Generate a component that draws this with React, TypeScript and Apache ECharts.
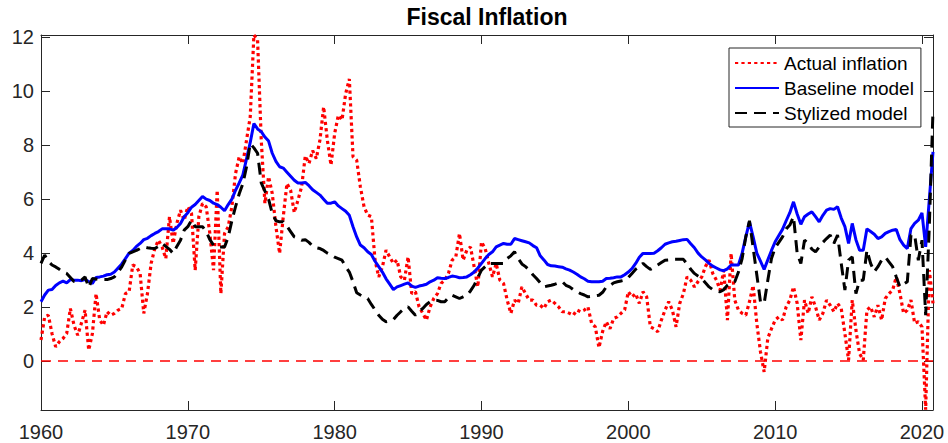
import React, { useEffect, useRef } from 'react';
import * as echarts from 'echarts';

// Quarterly observations, 1960Q1 .. 2020Q4
const startYear = 1960;
const xTickYears = [1960, 1970, 1980, 1990, 2000, 2010, 2020];
const yTickValues = [0, 2, 4, 6, 8, 10, 12];

const actualInflation = [
  0.78, 1.64, 1.70, 1.02, 0.53, 0.72, 0.84, 1.02, 1.95, 1.33, 0.96, 1.40, 1.89, 0.41, 1.02, 2.50,
  1.52, 1.33, 1.83, 1.70, 1.77, 1.89, 1.95, 2.50, 2.57, 3.56, 3.49, 3.25, 1.77, 2.50, 3.62, 4.17,
  4.48, 4.23, 3.80, 5.35, 4.36, 5.10, 5.59, 5.22, 5.72, 5.47, 3.37, 5.35, 5.84, 5.72, 4.73, 3.37,
  6.33, 2.50, 4.73, 4.98, 5.72, 6.95, 7.57, 7.32, 8.19, 9.05, 12.08, 11.90, 8.19, 5.84, 6.83, 6.21,
  4.98, 3.99, 5.35, 6.58, 6.33, 5.50, 5.96, 6.46, 7.60, 7.32, 7.80, 7.50, 8.20, 9.42, 8.19, 7.26,
  8.43, 9.11, 8.93, 9.91, 10.45, 7.57, 7.44, 6.46, 5.72, 5.41, 5.35, 3.74, 3.12, 3.49, 4.11, 3.86,
  3.62, 3.74, 3.12, 3.00, 3.86, 2.50, 2.57, 2.01, 1.77, 1.52, 2.01, 2.32, 2.50, 2.88, 3.00, 3.25,
  3.74, 3.86, 4.73, 3.74, 4.11, 4.23, 3.49, 2.75, 4.42, 4.17, 3.62, 3.12, 3.62, 3.00, 2.88, 2.26,
  1.77, 2.26, 2.14, 2.75, 2.50, 2.26, 2.26, 2.07, 2.07, 1.95, 2.20, 2.26, 2.14, 2.01, 1.83, 1.83,
  1.77, 1.70, 1.89, 1.83, 1.89, 2.01, 1.40, 1.27, 0.50, 1.10, 1.46, 1.20, 1.58, 1.64, 1.77, 1.90,
  2.57, 2.38, 2.50, 2.14, 2.57, 2.38, 1.27, 1.20, 1.09, 1.52, 1.89, 2.20, 1.89, 1.27, 2.14, 2.50,
  3.12, 3.00, 2.75, 2.95, 3.12, 3.50, 3.74, 3.25, 3.00, 2.63, 3.37, 1.52, 3.99, 2.26, 1.89, 1.77,
  1.70, 2.20, 2.80, 1.40, 0.35, -0.40, 0.85, 1.20, 1.52, 1.64, 1.52, 2.01, 2.26, 2.75, 2.14, 0.78,
  2.26, 1.77, 2.38, 2.01, 1.52, 1.77, 2.26, 2.07, 1.83, 2.14, 1.95, 1.02, 0.04, 2.26, 1.15, 0.28,
  0.04, 1.89, 2.01, 1.64, 2.07, 1.52, 2.32, 2.50, 2.63, 3.12, 2.50, 1.77, 1.89, 2.26, 1.40, 1.46,
  1.27, -1.80, 3.37, 2.14,
];

const baselineModel = [
  2.20, 2.45, 2.63, 2.65, 2.80, 2.90, 2.96, 2.90, 3.02, 3.00, 3.00, 2.98, 3.02, 2.95, 2.88, 3.10,
  3.12, 3.15, 3.20, 3.22, 3.30, 3.45, 3.60, 3.80, 4.00, 4.10, 4.25, 4.36, 4.50, 4.55, 4.65, 4.73,
  4.80, 4.90, 4.90, 4.90, 4.85, 4.95, 5.10, 5.35, 5.50, 5.70, 5.80, 5.95, 6.10, 6.00, 5.95, 5.85,
  5.80, 5.70, 5.57, 5.80, 6.00, 6.33, 6.60, 6.90, 7.50, 8.10, 8.80, 8.60, 8.50, 8.30, 8.15, 7.70,
  7.40, 7.20, 7.15, 7.00, 6.85, 6.70, 6.60, 6.60, 6.62, 6.50, 6.35, 6.25, 6.15, 6.00, 5.85, 5.85,
  5.90, 5.75, 5.65, 5.55, 5.40, 4.98, 4.60, 4.30, 4.20, 4.05, 3.95, 3.70, 3.50, 3.30, 3.05, 2.85,
  2.65, 2.75, 2.80, 2.85, 2.90, 2.78, 2.73, 2.78, 2.81, 2.85, 2.94, 3.00, 3.09, 3.07, 3.06, 3.10,
  3.15, 3.13, 3.09, 3.10, 3.12, 3.20, 3.30, 3.45, 3.62, 3.80, 3.95, 4.05, 4.23, 4.30, 4.36, 4.33,
  4.33, 4.54, 4.50, 4.46, 4.42, 4.38, 4.28, 4.20, 3.90, 3.75, 3.58, 3.53, 3.52, 3.50, 3.48, 3.42,
  3.37, 3.30, 3.22, 3.12, 3.05, 2.96, 2.94, 2.94, 2.94, 2.96, 3.06, 3.07, 3.09, 3.12, 3.12, 3.20,
  3.30, 3.43, 3.62, 3.85, 3.99, 3.99, 3.99, 4.00, 4.09, 4.20, 4.33, 4.38, 4.42, 4.44, 4.47, 4.50,
  4.51, 4.35, 4.20, 4.00, 3.86, 3.75, 3.62, 3.52, 3.45, 3.38, 3.35, 3.42, 3.56, 3.56, 3.56, 4.00,
  4.60, 5.16, 4.60, 4.00, 3.70, 3.40, 3.75, 4.10, 4.42, 4.65, 4.88, 5.20, 5.50, 5.90, 5.45, 5.07,
  5.35, 5.45, 5.53, 5.35, 5.16, 5.40, 5.59, 5.65, 5.62, 5.72, 5.30, 4.98, 4.36, 5.10, 4.50, 4.11,
  4.11, 4.90, 4.80, 4.70, 4.54, 4.60, 4.73, 4.80, 4.85, 4.88, 4.50, 4.30, 4.17, 4.91, 5.10, 5.22,
  5.49, 4.23, 6.00, 7.75,
];

const stylizedModel = [
  3.62, 3.93, 3.70, 3.56, 3.49, 3.40, 3.30, 3.25, 3.10, 2.95, 2.94, 3.00, 3.12, 2.73, 3.06, 3.04,
  3.02, 3.02, 3.02, 3.06, 3.12, 3.30, 3.49, 3.75, 3.99, 4.05, 4.10, 4.17, 4.23, 4.20, 4.18, 4.17,
  4.25, 4.36, 4.25, 4.14, 3.99, 4.25, 4.48, 4.85, 4.98, 5.22, 4.98, 4.98, 4.98, 4.80, 4.50, 4.30,
  4.23, 4.23, 4.23, 4.60, 5.20, 5.72, 6.20, 6.58, 7.20, 8.06, 7.90, 7.70, 6.60, 6.30, 6.00, 5.47,
  5.20, 5.16, 5.16, 5.00, 4.80, 4.60, 4.55, 4.48, 4.50, 4.40, 4.26, 4.20, 4.17, 4.10, 4.00, 3.93,
  3.85, 3.80, 3.74, 3.50, 3.30, 2.94, 2.53, 2.45, 2.38, 2.32, 2.10, 1.90, 1.70, 1.55, 1.46, 1.50,
  1.54, 1.70, 1.83, 1.95, 2.01, 1.85, 1.70, 1.85, 1.95, 2.10, 2.20, 2.26, 2.25, 2.20, 2.20, 2.35,
  2.44, 2.38, 2.32, 2.38, 2.44, 2.60, 2.81, 3.10, 3.37, 3.50, 3.62, 3.62, 3.62, 3.62, 3.62, 3.80,
  3.90, 4.05, 3.80, 3.60, 3.50, 3.37, 3.20, 3.06, 2.90, 2.75, 2.78, 2.81, 2.85, 2.90, 2.94, 2.81,
  2.75, 2.65, 2.57, 2.50, 2.45, 2.38, 2.40, 2.42, 2.44, 2.55, 2.75, 2.80, 2.90, 2.94, 2.97, 3.00,
  3.10, 3.25, 3.40, 3.49, 3.62, 3.50, 3.40, 3.48, 3.56, 3.65, 3.74, 3.75, 3.77, 3.77, 3.77, 3.77,
  3.60, 3.40, 3.25, 3.15, 3.06, 2.90, 2.75, 2.65, 2.60, 2.57, 2.65, 2.81, 2.90, 2.94, 3.30, 3.80,
  4.60, 5.20, 4.20, 3.20, 2.20, 2.14, 3.00, 3.80, 4.20, 4.40, 4.60, 4.90, 5.04, 5.35, 3.99, 3.62,
  4.48, 4.36, 4.15, 4.05, 4.23, 4.40, 4.54, 4.67, 4.36, 4.67, 3.62, 2.63, 3.74, 3.86, 2.50, 3.00,
  3.00, 4.11, 3.62, 3.31, 3.50, 3.74, 3.86, 3.68, 3.50, 3.12, 2.75, 2.85, 2.94, 4.67, 4.67, 3.74,
  4.48, 1.70, 5.00, 9.30,
];

const seriesNames = ['Actual inflation', 'Baseline model', 'Stylized model'];

const toPoints = (values: number[]) => values.map((v, i) => [startYear + i / 4, v]);

const FONT = "'Liberation Sans', Arial, Helvetica, sans-serif";
const AXIS = '#262626';

export default function App() {
  const ref = useRef<HTMLDivElement>(null);

  useEffect(() => {
    if (!ref.current) return;
    const chart = echarts.init(ref.current, undefined, { renderer: 'svg' });

    const xMin = startYear;
    const xMax = startYear + (actualInflation.length - 1) / 4;
    const yMin = -1.81;
    const yMax = 12.08;

    const commonAxisLine = { show: true, onZero: false, lineStyle: { color: AXIS, width: 1 } };
    const commonTick = { show: true, inside: true, length: 9, lineStyle: { color: AXIS, width: 1 } };

    const xLabelFmt = (v: number) => (xTickYears.includes(v) ? String(v) : '');
    const yLabelFmt = (v: number) => {
      const r = Math.round(v);
      return Math.abs(v - r) < 1e-9 && yTickValues.includes(r) ? String(r) : '';
    };

    const option: any = {
      animation: false,
      backgroundColor: '#ffffff',
      title: {
        text: 'Fiscal Inflation',
        left: 487,
        top: 5,
        textAlign: 'center',
        padding: 0,
        textStyle: { fontFamily: FONT, fontSize: 23, fontWeight: 'bold', color: '#000000' },
      },
      legend: {
        data: seriesNames,
        orient: 'vertical',
        left: 729,
        top: 48,
        padding: [3, 7, 2, 5],
        itemGap: 1,
        itemWidth: 44,
        itemHeight: 14,
        backgroundColor: '#ffffff',
        borderColor: AXIS,
        borderWidth: 1,
        borderRadius: 0,
        selectedMode: false,
        itemStyle: { opacity: 0 },
        textStyle: { fontFamily: FONT, fontSize: 19, color: '#000000', lineHeight: 24 },
      },
      grid: { left: 41, right: 15, top: 35, bottom: 33, containLabel: false },
      xAxis: [
        {
          type: 'value',
          position: 'bottom',
          min: xMin,
          max: xMax,
          interval: 10,
          axisLine: commonAxisLine,
          axisTick: commonTick,
          axisLabel: { formatter: xLabelFmt, fontFamily: FONT, fontSize: 20, color: AXIS, margin: 12 },
          splitLine: { show: false },
        },
        {
          type: 'value',
          position: 'top',
          min: xMin,
          max: xMax,
          interval: 10,
          axisLine: commonAxisLine,
          axisTick: commonTick,
          axisLabel: { show: false },
          splitLine: { show: false },
        },
      ],
      yAxis: [
        {
          type: 'value',
          position: 'left',
          min: yMin,
          max: yMax,
          splitNumber: 7,
          axisLine: commonAxisLine,
          axisTick: commonTick,
          axisLabel: { formatter: yLabelFmt, fontFamily: FONT, fontSize: 20, color: AXIS, margin: 7 },
          splitLine: { show: false },
        },
        {
          type: 'value',
          position: 'right',
          min: yMin,
          max: yMax,
          splitNumber: 7,
          axisLine: commonAxisLine,
          axisTick: commonTick,
          axisLabel: { show: false },
          splitLine: { show: false },
        },
      ],
      series: [
        {
          name: seriesNames[0],
          type: 'line',
          xAxisIndex: 0,
          yAxisIndex: 0,
          data: toPoints(actualInflation),
          symbol: 'none',
          lineStyle: { color: '#ff0000', width: 3.2, type: [3.2, 3.2], cap: 'butt' },
          itemStyle: { color: '#ff0000' },
          markLine: {
            silent: true,
            symbol: ['none', 'none'],
            label: { show: false },
            lineStyle: { color: '#ff0000', width: 1.5, type: [10, 7] },
            data: [{ yAxis: 0 }],
          },
        },
        {
          name: seriesNames[1],
          type: 'line',
          xAxisIndex: 0,
          yAxisIndex: 0,
          data: toPoints(baselineModel),
          symbol: 'none',
          lineStyle: { color: '#0000ff', width: 3, type: 'solid' },
          itemStyle: { color: '#0000ff' },
        },
        {
          name: seriesNames[2],
          type: 'line',
          xAxisIndex: 0,
          yAxisIndex: 0,
          data: toPoints(stylizedModel),
          symbol: 'none',
          lineStyle: { color: '#000000', width: 3, type: [12, 7], cap: 'butt' },
          itemStyle: { color: '#000000' },
        },
      ],
    };

    chart.setOption(option);
    return () => chart.dispose();
  }, []);

  return (
    <div
      ref={ref}
      style={{ position: 'fixed', left: 0, top: 0, width: 948, height: 443, background: '#ffffff' }}
    />
  );
}
